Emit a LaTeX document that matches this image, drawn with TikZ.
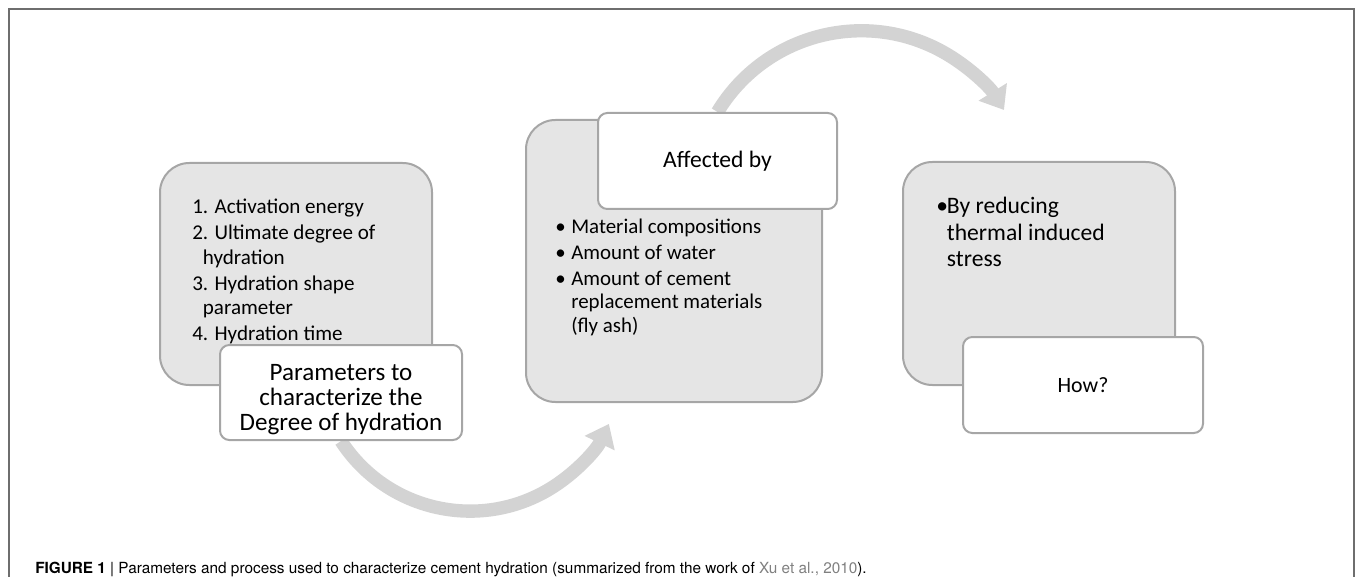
\documentclass[tikz,border=0pt]{standalone}
\usepackage{fontspec}
\setmainfont{Carlito}
\newfontfamily\capfont{TeX Gyre Heros}
\usetikzlibrary{arrows.meta,backgrounds}
\definecolor{boxgray}{RGB}{229,229,229}
\definecolor{edgegray}{RGB}{166,166,166}
\definecolor{arcgray}{RGB}{211,211,211}
\definecolor{framegray}{RGB}{110,110,110}
\definecolor{linkgray}{RGB}{128,128,128}
\newcommand{\bul}[1]{\makebox[#1][l]{•}}

\tikzset{
    outerbox/.style={draw=edgegray, line width=1.5pt, fill=boxgray, rounded corners=22pt, inner sep=0pt},
    tagbox/.style={draw=edgegray, line width=1.5pt, fill=white, rounded corners=7pt, inner sep=0pt, align=center},
    flowarc/.style={arcgray, line width=10pt, -{Triangle[width=24pt,length=16pt]}},
}

\begin{document}
\begin{tikzpicture}[x=0.75pt,y=0.75pt,yscale=-1,xscale=1]
    \useasboundingbox (0,0) rectangle (1355,577);

    %Shape: Frame
    \draw [framegray, line width=1.2pt] (9,577) -- (9,9) -- (1354,9) -- (1354,577);

    %Shape: Rounded Rect [id:hydbox]
    \node [outerbox, minimum width=204pt, minimum height=166.5pt] (hydbox) at (296,274) {};
    %Shape: Rounded Rect [id:param]
    \node [tagbox, minimum width=181.5pt, minimum height=71.25pt] (param) at (341,392.5) {};

    %Shape: Rounded Rect [id:causebox]
    \node [outerbox, minimum width=222pt, minimum height=211.5pt] (causebox) at (674,261) {};
    %Shape: Rounded Rect [id:affect]
    \node [tagbox, minimum width=179.25pt, minimum height=72pt, font=\fontsize{17.7}{20}\selectfont] (affect) at (717.5,161) {\raisebox{-2pt}{Affected by}};

    %Shape: Rounded Rect [id:stressbox]
    \node [outerbox, minimum width=204pt, minimum height=167.25pt] (stressbox) at (1039,273.5) {};
    %Shape: Rounded Rect [id:how]
    \node [tagbox, minimum width=180pt, minimum height=72pt, font=\fontsize{16.4}{20}\selectfont] (how) at (1083,385) {How?};

    %Curved Arrows
    \begin{scope}[on background layer]
        \draw [flowarc] (param.south) arc [start angle=147, end angle=25.7, radius=154];
        \draw [flowarc] (affect.north) arc [start angle=211.1, end angle=328.1, radius=168];
    \end{scope}

    % Text Node
    \node [align=center, inner sep=0pt, font=\fontsize{18.8}{18.75}\selectfont] (paramtext) at ([yshift=5pt]param.center) {Parameters to\\characterize the\\Degree of hydration};
    % Text Node
    \node [anchor=north west, align=left, inner sep=0pt, font=\fontsize{15.8}{18.4}\selectfont] (hydlist) at (192,199) {1. Activation energy\\[1pt] 2. Ultimate degree of\\ \hspace*{8pt}hydration\\[1pt] 3. Hydration shape\\ \hspace*{8pt}parameter\\[1pt] 4. Hydration time};
    % Text Node
    \node [anchor=north west, align=left, inner sep=0pt, font=\fontsize{15.7}{17.7}\selectfont] (causelist) at (555,219) {\bul{12pt}Material compositions\\[1.5pt] \bul{12pt}Amount of water\\[1.5pt] \bul{12pt}Amount of cement\\ \hspace*{12pt}replacement materials\\ \hspace*{12pt}(fly ash)};
    % Text Node
    \node [anchor=north west, align=left, inner sep=0pt, font=\fontsize{17.7}{20}\selectfont] (stresslist) at (936,197) {\bul{8pt}By reducing\\ \hspace*{8pt}thermal induced\\ \hspace*{8pt}stress};

    % Text Node
    \node [anchor=base west, inner sep=0pt, font=\capfont\fontsize{11.5}{14}\selectfont] (caption) at (35,573) {\textbf{FIGURE 1} | Parameters and process used to characterize cement hydration (summarized from the work of \textcolor{linkgray}{Xu et al., 2010}).};

\end{tikzpicture}
\end{document}
